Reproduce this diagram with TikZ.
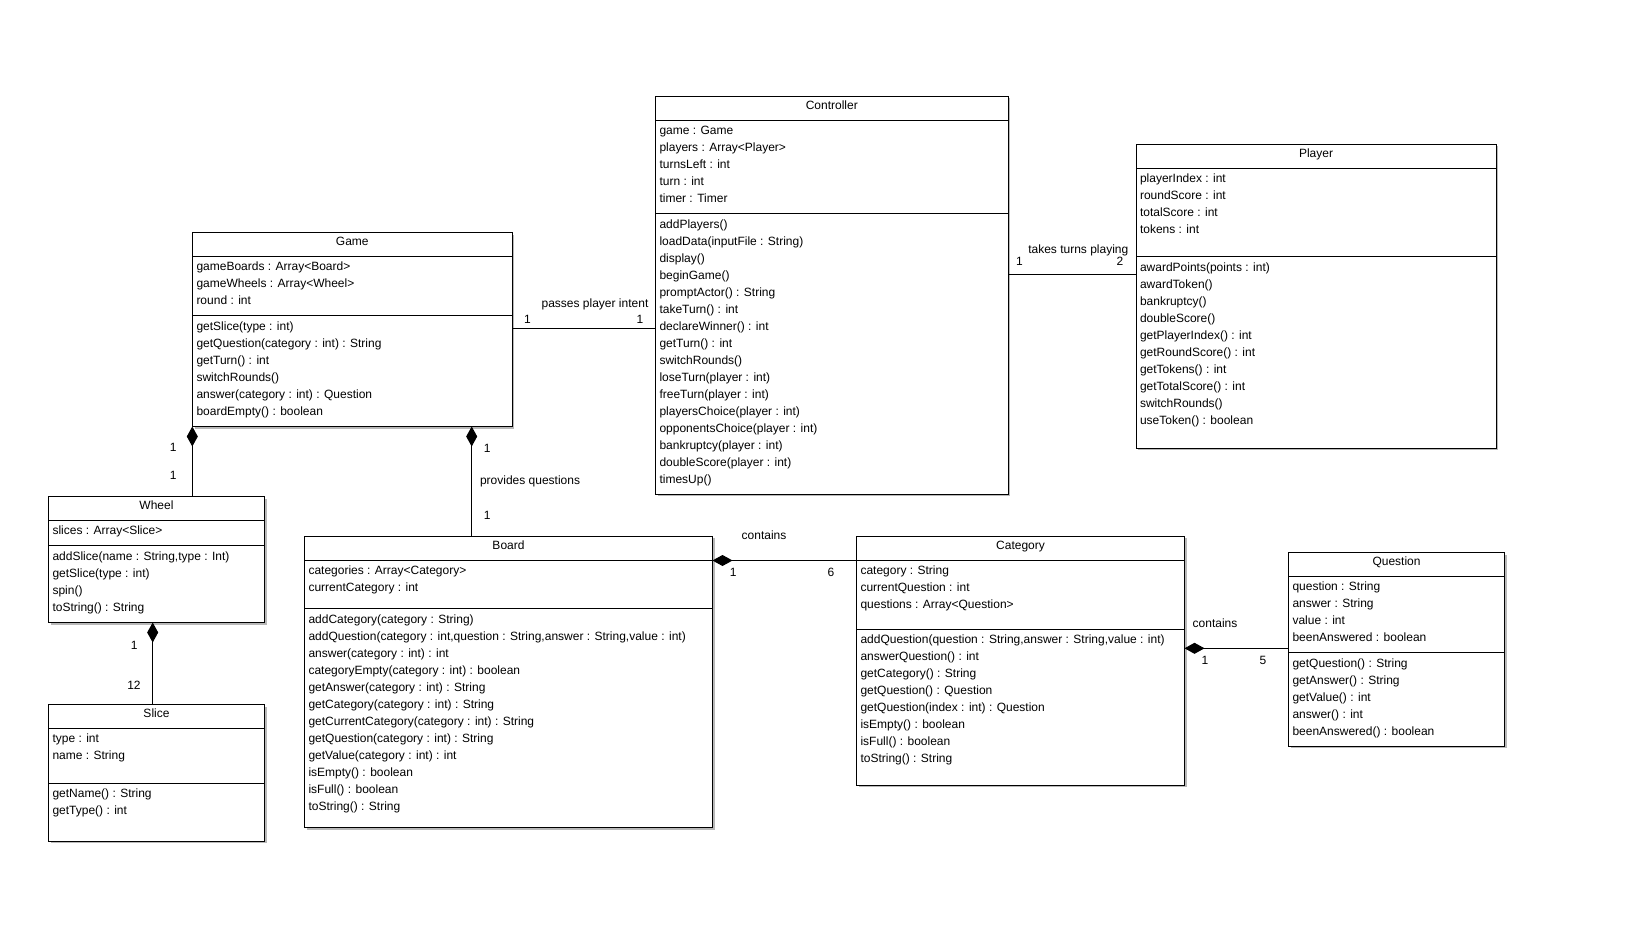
\documentclass[tikz,border=0pt]{standalone}
\usepackage{fontspec}
\setmainfont{Liberation Sans}
\usetikzlibrary{arrows.meta}

\tikzset{
  classbox/.style={draw=black, line width=1pt, fill=white, inner sep=0pt, outer sep=0pt},
  shade box/.style={fill=black!28},
  rule/.style={draw=black, line width=1pt},
  txt/.style={font=\fontsize{12}{14}\selectfont, inner sep=0pt, outer sep=0pt, text=black},
  link/.style={draw=black, line width=1pt},
  comp/.style={link, {Diamond[length=20pt,width=11pt]}-},
}

% \umlclass{name}{x1}{y1}{x2}{y2}{separator y}{title}{attributes}{operations}
\newcommand\umlclass[9]{%
  \fill[shade box] (#2+2,#3+2) rectangle (#4+2,#5+2);
  \node[classbox, anchor=north west,
        minimum width={(#4-#2)*1pt}, minimum height={(#5-#3)*1pt}] (#1) at (#2,#3) {};
  \draw[rule] (#2,#3+24) -- (#4,#3+24);
  \draw[rule] (#2,#6) -- (#4,#6);
  \node[txt, anchor=base] (#1-title) at ({(#2+#4)/2},#3+13) {#7};
  \foreach \t [count=\i from 0] in {#8}
    \node[txt, anchor=base west] (#1-a\i) at (#2+4,#3+38+17*\i) {\t};
  \foreach \t [count=\i from 0] in {#9}
    \node[txt, anchor=base west] (#1-m\i) at (#2+4,#6+14.5+17*\i) {\t};
}

\begin{document}
\begin{tikzpicture}[x=1pt, y=-1pt]
\fill[white] (0,0) rectangle (1648,936);
\useasboundingbox (0,0) rectangle (1648,936);

\umlclass{Game}{192.5}{232.5}{512}{426.5}{315.5}{Game}
  {{gameBoards : Array<Board>}, {gameWheels : Array<Wheel>}, {round : int}}
  {{getSlice(type : int)}, {getQuestion(category : int) : String}, {getTurn() : int},
   {switchRounds()}, {answer(category : int) : Question}, {boardEmpty() : boolean}}

\umlclass{Controller}{655.5}{96.5}{1008}{494}{213.5}{Controller}
  {{game : Game}, {players : Array<Player>}, {turnsLeft : int}, {turn : int}, {timer : Timer}}
  {{addPlayers()}, {loadData(inputFile : String)}, {display()}, {beginGame()},
   {promptActor() : String}, {takeTurn() : int}, {declareWinner() : int}, {getTurn() : int},
   {switchRounds()}, {loseTurn(player : int)}, {freeTurn(player : int)},
   {playersChoice(player : int)}, {opponentsChoice(player : int)}, {bankruptcy(player : int)},
   {doubleScore(player : int)}, {timesUp()}}

\umlclass{Player}{1136}{144.5}{1496}{448}{256.5}{Player}
  {{playerIndex : int}, {roundScore : int}, {totalScore : int}, {tokens : int}}
  {{awardPoints(points : int)}, {awardToken()}, {bankruptcy()}, {doubleScore()},
   {getPlayerIndex() : int}, {getRoundScore() : int}, {getTokens() : int},
   {getTotalScore() : int}, {switchRounds()}, {useToken() : boolean}}

\umlclass{Wheel}{48.5}{496.5}{264.5}{622.5}{545.5}{Wheel}
  {{slices : Array<Slice>}}
  {{addSlice(name : String,type : Int)}, {getSlice(type : int)}, {spin()}, {toString() : String}}

\umlclass{Slice}{48.5}{704.5}{264.5}{841}{783}{Slice}
  {{type : int}, {name : String}}
  {{getName() : String}, {getType() : int}}

\umlclass{Board}{304.5}{536}{712.5}{827.5}{608.5}{Board}
  {{categories : Array<Category>}, {currentCategory : int}}
  {{addCategory(category : String)},
   {addQuestion(category : int,question : String,answer : String,value : int)},
   {answer(category : int) : int}, {categoryEmpty(category : int) : boolean},
   {getAnswer(category : int) : String}, {getCategory(category : int) : String},
   {getCurrentCategory(category : int) : String}, {getQuestion(category : int) : String},
   {getValue(category : int) : int}, {isEmpty() : boolean}, {isFull() : boolean},
   {toString() : String}}

\umlclass{Category}{856.5}{536}{1184.5}{785}{629}{Category}
  {{category : String}, {currentQuestion : int}, {questions : Array<Question>}}
  {{addQuestion(question : String,answer : String,value : int)}, {answerQuestion() : int},
   {getCategory() : String}, {getQuestion() : Question}, {getQuestion(index : int) : Question},
   {isEmpty() : boolean}, {isFull() : boolean}, {toString() : String}}

\umlclass{Question}{1288.5}{552.5}{1504.5}{746}{652.5}{Question}
  {{question : String}, {answer : String}, {value : int}, {beenAnswered : boolean}}
  {{getQuestion() : String}, {getAnswer() : String}, {getValue() : int},
   {answer() : int}, {beenAnswered() : boolean}}

% connector levels
\coordinate (gcY) at (0,328.3);
\coordinate (cpY) at (0,274);
\coordinate (bcY) at (0,560.5);
\coordinate (cqY) at (0,648.3);
\coordinate (gwX) at (192.3,0);
\coordinate (gbX) at (471.7,0);
\coordinate (wsX) at (152.7,0);

% Game -- Controller
\draw[link] (Game.east |- gcY) -- (Controller.west |- gcY);
\node[txt, anchor=base] (l-gc) at (595,307.5) {passes player intent};
\node[txt, anchor=base] (l-gc1) at (527.5,323.2) {1};
\node[txt, anchor=base] (l-gc2) at (640,323.2) {1};

% Controller -- Player
\draw[link] (Controller.east |- cpY) -- (Player.west |- cpY);
\node[txt, anchor=base] (l-cp) at (1078.3,253) {takes turns playing};
\node[txt, anchor=base] (l-cp1) at (1019.5,265.2) {1};
\node[txt, anchor=base] (l-cp2) at (1120,265.2) {2};

% Game <>-- Wheel
\draw[comp] (Game.south -| gwX) -- (Wheel.north -| gwX);
\node[txt, anchor=base] (l-gw1) at (173.3,451.5) {1};
\node[txt, anchor=base] (l-gw2) at (173.3,479.2) {1};

% Wheel <>-- Slice
\draw[comp] (Wheel.south -| wsX) -- (Slice.north -| wsX);
\node[txt, anchor=base] (l-ws1) at (134.3,649.2) {1};
\node[txt, anchor=base] (l-ws2) at (134,689.2) {12};

% Game <>-- Board
\draw[comp] (Game.south -| gbX) -- (Board.north -| gbX);
\node[txt, anchor=base] (l-gb1) at (487.3,452.5) {1};
\node[txt, anchor=base west] (l-gb) at (480,484.5) {provides questions};
\node[txt, anchor=base] (l-gb2) at (487.3,519.9) {1};

% Board <>-- Category
\draw[comp] (Board.east |- bcY) -- (Category.west |- bcY);
\node[txt, anchor=base] (l-bc) at (764,539.5) {contains};
\node[txt, anchor=base] (l-bc1) at (733.3,576.9) {1};
\node[txt, anchor=base] (l-bc2) at (831,576.9) {6};

% Category <>-- Question
\draw[comp] (Category.east |- cqY) -- (Question.west |- cqY);
\node[txt, anchor=base] (l-cq) at (1215,627) {contains};
\node[txt, anchor=base] (l-cq1) at (1205,664.2) {1};
\node[txt, anchor=base] (l-cq2) at (1263,664.2) {5};
\end{tikzpicture}
\end{document}
